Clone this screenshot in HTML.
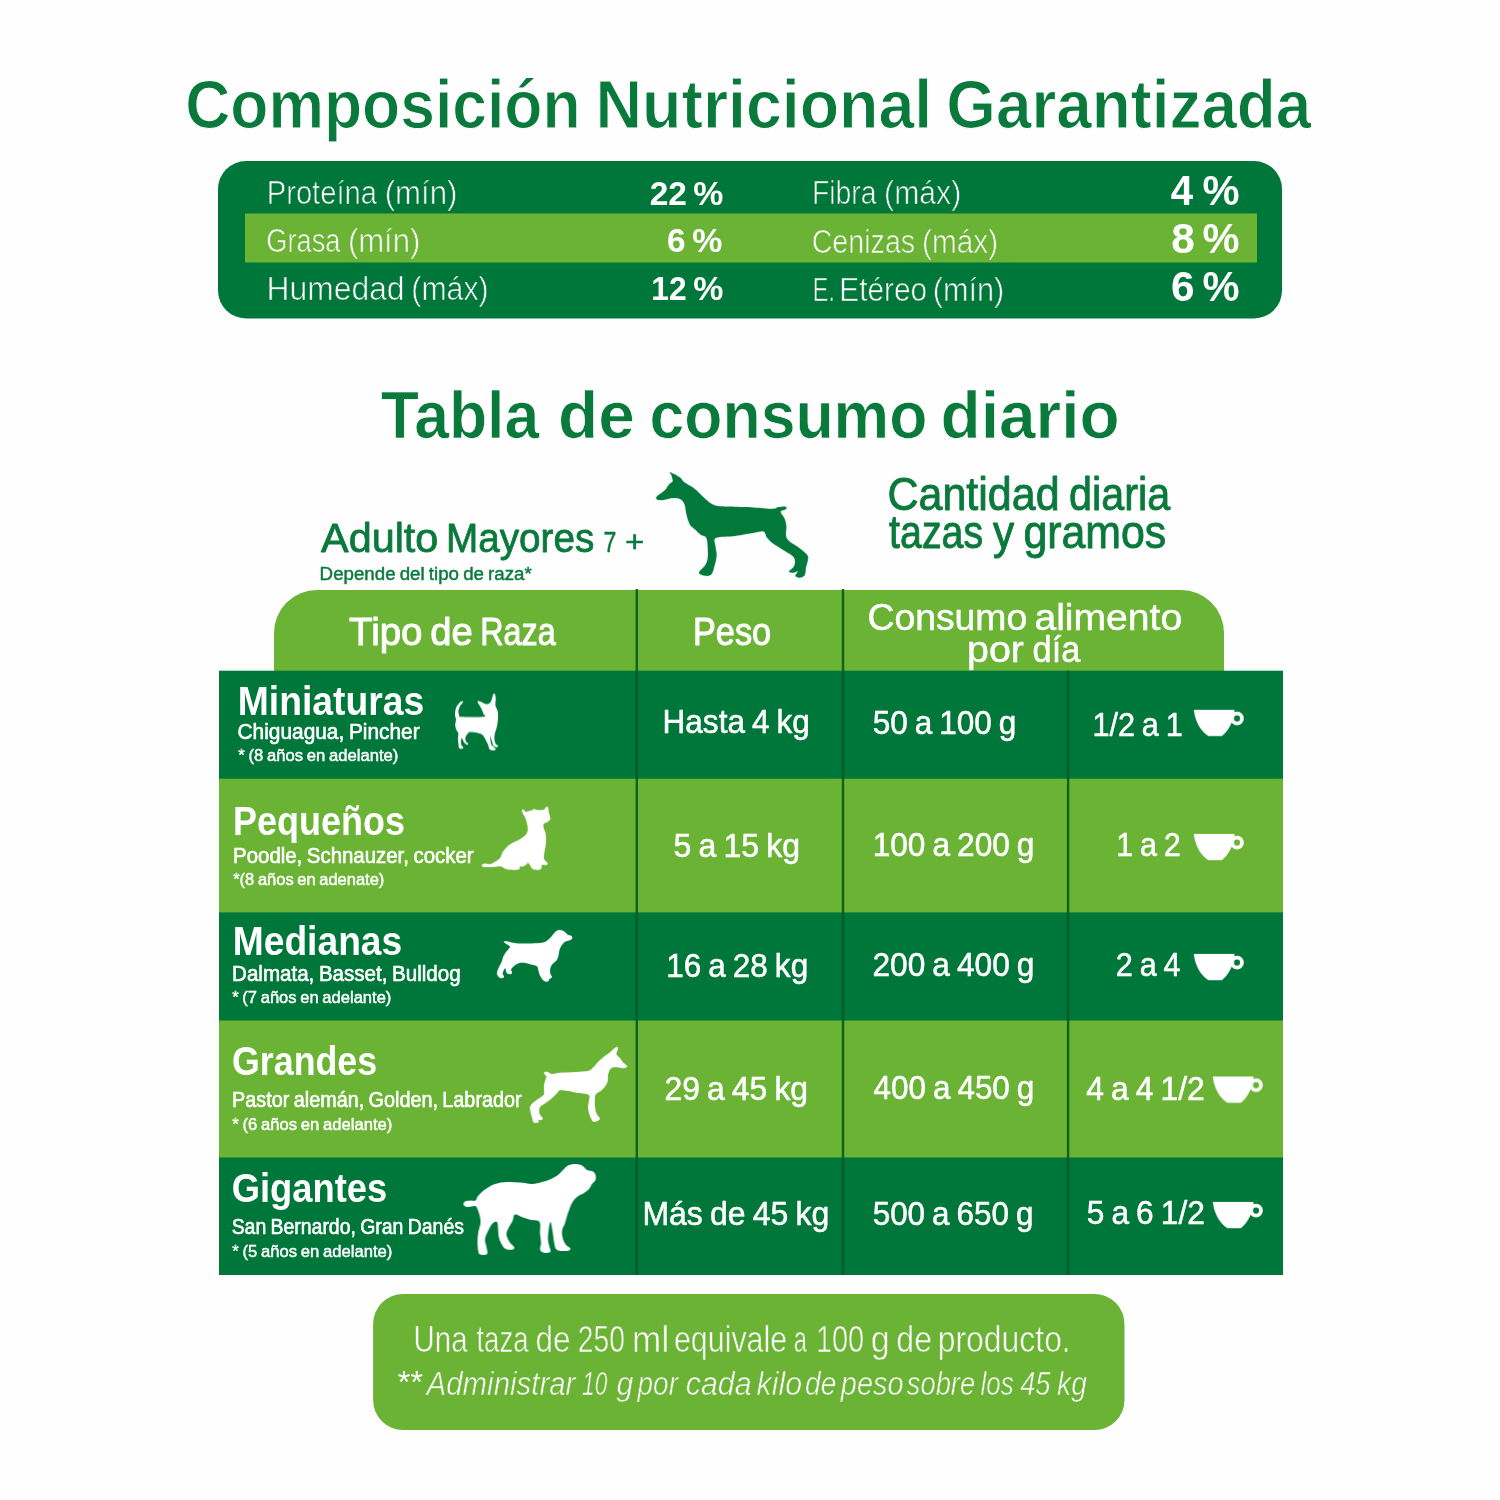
<!DOCTYPE html>
<html lang="es"><head><meta charset="utf-8"><title>Composición Nutricional Garantizada</title>
<style>
html,body{margin:0;padding:0;background:#fff;}
body{width:1500px;height:1500px;overflow:hidden;}
svg{display:block;will-change:transform;}
svg text{font-family:"Liberation Sans",sans-serif;}
</style></head><body>
<svg width="1500" height="1500" viewBox="0 0 1500 1500">
<rect width="1500" height="1500" fill="#fefefe"/>
<text x="185.29" y="127.6" font-size="68.5" fill="#0a7a3c" font-weight="bold" word-spacing="-0.055em" textLength="395.31" lengthAdjust="spacingAndGlyphs" stroke="#fefefe" stroke-width="1.0">Composición</text>
<text x="595.50" y="127.6" font-size="68.5" fill="#0a7a3c" font-weight="bold" word-spacing="-0.055em" textLength="336.70" lengthAdjust="spacingAndGlyphs" stroke="#fefefe" stroke-width="1.0">Nutricional</text>
<text x="946.35" y="127.6" font-size="68.5" fill="#0a7a3c" font-weight="bold" word-spacing="-0.055em" textLength="364.91" lengthAdjust="spacingAndGlyphs" stroke="#fefefe" stroke-width="1.0">Garantizada</text>
<rect x="218" y="161" width="1064" height="157.5" rx="28" fill="#00773a"/>
<rect x="245" y="213.5" width="1012" height="49" fill="#6ab334"/>
<text x="266.73" y="204.4" font-size="34" fill="#ffffff" word-spacing="-0.055em" textLength="110.30" lengthAdjust="spacingAndGlyphs" stroke="#00773a" stroke-width="0.7">Proteína</text>
<text x="384.73" y="204.4" font-size="34" fill="#ffffff" word-spacing="-0.055em" textLength="72.67" lengthAdjust="spacingAndGlyphs" stroke="#00773a" stroke-width="0.7">(mín)</text>
<text x="649.67" y="205" font-size="32.5" fill="#ffffff" font-weight="bold" word-spacing="-0.055em" textLength="37.24" lengthAdjust="spacingAndGlyphs">22</text>
<text x="693.26" y="205" font-size="32.5" fill="#ffffff" font-weight="bold" word-spacing="-0.055em" textLength="30.08" lengthAdjust="spacingAndGlyphs">%</text>
<text x="812.00" y="204.4" font-size="34" fill="#ffffff" word-spacing="-0.055em" textLength="64.58" lengthAdjust="spacingAndGlyphs" stroke="#00773a" stroke-width="0.7">Fibra</text>
<text x="884.09" y="204.4" font-size="34" fill="#ffffff" word-spacing="-0.055em" textLength="77.15" lengthAdjust="spacingAndGlyphs" stroke="#00773a" stroke-width="0.7">(máx)</text>
<text x="1170.85" y="204.5" font-size="42" fill="#ffffff" font-weight="bold" word-spacing="-0.055em" textLength="22.30" lengthAdjust="spacingAndGlyphs">4</text>
<text x="1202.42" y="204.5" font-size="42" fill="#ffffff" font-weight="bold" word-spacing="-0.055em" textLength="37.06" lengthAdjust="spacingAndGlyphs">%</text>
<text x="266.36" y="251.5" font-size="34" fill="#ffffff" word-spacing="-0.055em" textLength="73.99" lengthAdjust="spacingAndGlyphs" stroke="#6ab334" stroke-width="0.7">Grasa</text>
<text x="347.89" y="251.5" font-size="34" fill="#ffffff" word-spacing="-0.055em" textLength="72.49" lengthAdjust="spacingAndGlyphs" stroke="#6ab334" stroke-width="0.7">(mín)</text>
<text x="667.13" y="252.4" font-size="32.5" fill="#ffffff" font-weight="bold" word-spacing="-0.055em" textLength="18.64" lengthAdjust="spacingAndGlyphs">6</text>
<text x="692.26" y="252.4" font-size="32.5" fill="#ffffff" font-weight="bold" word-spacing="-0.055em" textLength="30.08" lengthAdjust="spacingAndGlyphs">%</text>
<text x="811.66" y="252.6" font-size="34" fill="#ffffff" word-spacing="-0.055em" textLength="103.48" lengthAdjust="spacingAndGlyphs" stroke="#6ab334" stroke-width="0.7">Cenizas</text>
<text x="921.99" y="252.6" font-size="34" fill="#ffffff" word-spacing="-0.055em" textLength="76.08" lengthAdjust="spacingAndGlyphs" stroke="#6ab334" stroke-width="0.7">(máx)</text>
<text x="1171.30" y="252.9" font-size="42" fill="#ffffff" font-weight="bold" word-spacing="-0.055em" textLength="23.57" lengthAdjust="spacingAndGlyphs">8</text>
<text x="1202.42" y="252.9" font-size="42" fill="#ffffff" font-weight="bold" word-spacing="-0.055em" textLength="37.06" lengthAdjust="spacingAndGlyphs">%</text>
<text x="266.55" y="299.8" font-size="34" fill="#ffffff" word-spacing="-0.055em" textLength="138.01" lengthAdjust="spacingAndGlyphs" stroke="#00773a" stroke-width="0.7">Humedad</text>
<text x="411.31" y="299.8" font-size="34" fill="#ffffff" word-spacing="-0.055em" textLength="77.35" lengthAdjust="spacingAndGlyphs" stroke="#00773a" stroke-width="0.7">(máx)</text>
<text x="651.34" y="300.3" font-size="32.5" fill="#ffffff" font-weight="bold" word-spacing="-0.055em" textLength="35.36" lengthAdjust="spacingAndGlyphs">12</text>
<text x="693.26" y="300.3" font-size="32.5" fill="#ffffff" font-weight="bold" word-spacing="-0.055em" textLength="30.08" lengthAdjust="spacingAndGlyphs">%</text>
<text x="812.84" y="301" font-size="34" fill="#ffffff" word-spacing="-0.055em" textLength="22.06" lengthAdjust="spacingAndGlyphs" stroke="#00773a" stroke-width="0.7">E.</text>
<text x="839.27" y="301" font-size="34" fill="#ffffff" word-spacing="-0.055em" textLength="87.85" lengthAdjust="spacingAndGlyphs" stroke="#00773a" stroke-width="0.7">Etéreo</text>
<text x="932.77" y="301" font-size="34" fill="#ffffff" word-spacing="-0.055em" textLength="71.57" lengthAdjust="spacingAndGlyphs" stroke="#00773a" stroke-width="0.7">(mín)</text>
<text x="1171.06" y="301" font-size="42" fill="#ffffff" font-weight="bold" word-spacing="-0.055em" textLength="23.55" lengthAdjust="spacingAndGlyphs">6</text>
<text x="1202.42" y="301" font-size="42" fill="#ffffff" font-weight="bold" word-spacing="-0.055em" textLength="37.06" lengthAdjust="spacingAndGlyphs">%</text>
<text x="380.71" y="438.1" font-size="66" fill="#0a7a3c" font-weight="bold" word-spacing="-0.055em" textLength="158.50" lengthAdjust="spacingAndGlyphs" stroke="#fefefe" stroke-width="0.7">Tabla</text>
<text x="558.12" y="438.1" font-size="66" fill="#0a7a3c" font-weight="bold" word-spacing="-0.055em" textLength="76.83" lengthAdjust="spacingAndGlyphs" stroke="#fefefe" stroke-width="0.7">de</text>
<text x="649.50" y="438.1" font-size="66" fill="#0a7a3c" font-weight="bold" word-spacing="-0.055em" textLength="277.89" lengthAdjust="spacingAndGlyphs" stroke="#fefefe" stroke-width="0.7">consumo</text>
<text x="940.61" y="438.1" font-size="66" fill="#0a7a3c" font-weight="bold" word-spacing="-0.055em" textLength="179.03" lengthAdjust="spacingAndGlyphs" stroke="#fefefe" stroke-width="0.7">diario</text>
<text x="321.11" y="552" font-size="41.5" fill="#0a7a3c" word-spacing="-0.055em" textLength="117.22" lengthAdjust="spacingAndGlyphs" stroke="#0a7a3c" stroke-width="0.8" stroke-linejoin="round">Adulto</text>
<text x="446.07" y="552" font-size="41.5" fill="#0a7a3c" word-spacing="-0.055em" textLength="148.24" lengthAdjust="spacingAndGlyphs" stroke="#0a7a3c" stroke-width="0.8" stroke-linejoin="round">Mayores</text>
<text x="603.56" y="552" font-size="30" fill="#0a7a3c" word-spacing="-0.055em" textLength="12.84" lengthAdjust="spacingAndGlyphs" stroke="#0a7a3c" stroke-width="0.5" stroke-linejoin="round">7</text>
<text x="625.01" y="552" font-size="30" fill="#0a7a3c" word-spacing="-0.055em" textLength="19.35" lengthAdjust="spacingAndGlyphs" stroke="#0a7a3c" stroke-width="0.5" stroke-linejoin="round">+</text>
<text x="319.64" y="580" font-size="17.5" fill="#0a7a3c" word-spacing="-0.055em" textLength="212.17" lengthAdjust="spacingAndGlyphs" stroke="#0a7a3c" stroke-width="0.45" stroke-linejoin="round">Depende del tipo de raza*</text>
<text x="887.46" y="509.5" font-size="46" fill="#0a7a3c" word-spacing="-0.055em" textLength="172.13" lengthAdjust="spacingAndGlyphs" stroke="#0a7a3c" stroke-width="0.9" stroke-linejoin="round">Cantidad</text>
<text x="1069.07" y="509.5" font-size="46" fill="#0a7a3c" word-spacing="-0.055em" textLength="101.14" lengthAdjust="spacingAndGlyphs" stroke="#0a7a3c" stroke-width="0.9" stroke-linejoin="round">diaria</text>
<text x="889.09" y="547.7" font-size="46" fill="#0a7a3c" word-spacing="-0.055em" textLength="94.10" lengthAdjust="spacingAndGlyphs" stroke="#0a7a3c" stroke-width="0.9" stroke-linejoin="round">tazas</text>
<text x="992.90" y="547.7" font-size="46" fill="#0a7a3c" word-spacing="-0.055em" textLength="21.13" lengthAdjust="spacingAndGlyphs" stroke="#0a7a3c" stroke-width="0.9" stroke-linejoin="round">y</text>
<text x="1023.40" y="547.7" font-size="46" fill="#0a7a3c" word-spacing="-0.055em" textLength="142.91" lengthAdjust="spacingAndGlyphs" stroke="#0a7a3c" stroke-width="0.9" stroke-linejoin="round">gramos</text>
<svg x="640" y="460" width="190" height="140" viewBox="0 0 1500 1105"><path d="M239,96C251,100 297,123 315,136C333,149 331,161 348,174C365,187 398,203 416,216C434,229 444,237 458,250C472,263 486,279 500,292C514,305 528,320 542,330C556,340 566,349 584,355C602,361 626,364 647,366C668,368 668,366 710,368C752,370 843,372 900,375C957,378 1018,386 1050,385C1082,384 1073,375 1090,372C1107,369 1140,365 1150,368C1160,371 1157,383 1150,390C1143,397 1112,398 1110,410C1108,422 1132,442 1140,460C1148,478 1152,493 1155,520C1158,547 1144,592 1160,620C1176,648 1223,668 1250,690C1277,712 1308,733 1320,750C1332,767 1327,773 1325,790C1323,807 1314,830 1310,850C1306,870 1308,897 1300,910C1292,923 1272,929 1260,930C1248,931 1228,923 1225,915C1222,907 1248,884 1245,880C1242,876 1222,890 1210,890C1198,890 1174,888 1175,880C1176,872 1208,858 1215,840C1222,822 1229,792 1215,770C1201,748 1158,728 1130,710C1102,692 1072,677 1050,660C1028,643 1012,626 1000,610C988,594 992,571 975,565C958,559 938,569 900,575C862,581 800,593 750,600C700,607 626,602 600,615C574,628 594,658 595,680C596,702 606,725 605,750C604,775 597,805 590,830C583,855 577,886 565,900C553,914 537,917 520,915C503,913 466,904 465,890C464,876 503,852 515,830C527,808 533,795 535,760C537,725 534,648 525,620C516,592 496,602 480,590C464,578 444,558 430,545C416,532 404,527 395,513C386,499 380,480 374,461C368,442 365,422 361,402C357,382 356,358 348,343C340,328 330,316 315,309C300,302 282,300 260,301C238,302 204,315 184,317C164,319 148,317 138,315C128,313 128,307 127,303C126,299 124,298 129,292C134,286 144,278 155,269C166,260 185,249 197,237C209,225 217,206 226,195C235,184 247,179 252,174C257,169 258,171 258,166C258,161 256,154 254,145C252,136 248,123 245,115C242,107 227,92 239,96Z" fill="#02783a"/></svg>
<path d="M274,671 V633 a43,43 0 0 1 43,-43 H1181 a43,43 0 0 1 43,43 V671 Z" fill="#6ab334"/>
<text x="349.07" y="644.8" font-size="39.5" fill="#ffffff" word-spacing="-0.055em" textLength="73.44" lengthAdjust="spacingAndGlyphs" stroke="#ffffff" stroke-width="1.0" stroke-linejoin="round">Tipo</text>
<text x="430.26" y="644.8" font-size="39.5" fill="#ffffff" word-spacing="-0.055em" textLength="42.53" lengthAdjust="spacingAndGlyphs" stroke="#ffffff" stroke-width="1.0" stroke-linejoin="round">de</text>
<text x="480.32" y="644.8" font-size="39.5" fill="#ffffff" word-spacing="-0.055em" textLength="75.36" lengthAdjust="spacingAndGlyphs" stroke="#ffffff" stroke-width="1.0" stroke-linejoin="round">Raza</text>
<text x="693.02" y="644.8" font-size="39.5" fill="#ffffff" word-spacing="-0.055em" textLength="78.06" lengthAdjust="spacingAndGlyphs" stroke="#ffffff" stroke-width="1.0" stroke-linejoin="round">Peso</text>
<text x="867.48" y="629.8" font-size="37" fill="#ffffff" word-spacing="-0.055em" textLength="159.76" lengthAdjust="spacingAndGlyphs" stroke="#ffffff" stroke-width="0.5" stroke-linejoin="round">Consumo</text>
<text x="1034.40" y="629.8" font-size="37" fill="#ffffff" word-spacing="-0.055em" textLength="147.78" lengthAdjust="spacingAndGlyphs" stroke="#ffffff" stroke-width="0.5" stroke-linejoin="round">alimento</text>
<text x="967.12" y="662.4" font-size="37" fill="#ffffff" word-spacing="-0.055em" textLength="56.75" lengthAdjust="spacingAndGlyphs" stroke="#ffffff" stroke-width="0.5" stroke-linejoin="round">por</text>
<text x="1032.62" y="662.4" font-size="37" fill="#ffffff" word-spacing="-0.055em" textLength="47.70" lengthAdjust="spacingAndGlyphs" stroke="#ffffff" stroke-width="0.5" stroke-linejoin="round">día</text>
<rect x="219" y="670.7" width="1064" height="108.5" fill="#00773a"/>
<rect x="219" y="778.7" width="1064" height="134.1" fill="#6ab334"/>
<rect x="219" y="912.3" width="1064" height="108.7" fill="#00773a"/>
<rect x="219" y="1020.5" width="1064" height="137.5" fill="#6ab334"/>
<rect x="219" y="1157.5" width="1064" height="117.5" fill="#00773a"/>
<rect x="635.6" y="589" width="2.4" height="82.0" fill="#0f631a"/>
<rect x="635.6" y="670.7" width="2.4" height="108.3" fill="#005b2a"/>
<rect x="635.6" y="778.7" width="2.4" height="133.9" fill="#0f631a"/>
<rect x="635.6" y="912.3" width="2.4" height="108.5" fill="#005b2a"/>
<rect x="635.6" y="1020.5" width="2.4" height="137.3" fill="#0f631a"/>
<rect x="635.6" y="1157.5" width="2.4" height="117.3" fill="#005b2a"/>
<rect x="841.8" y="589" width="2.4" height="82.0" fill="#0f631a"/>
<rect x="841.8" y="670.7" width="2.4" height="108.3" fill="#005b2a"/>
<rect x="841.8" y="778.7" width="2.4" height="133.9" fill="#0f631a"/>
<rect x="841.8" y="912.3" width="2.4" height="108.5" fill="#005b2a"/>
<rect x="841.8" y="1020.5" width="2.4" height="137.3" fill="#0f631a"/>
<rect x="841.8" y="1157.5" width="2.4" height="117.3" fill="#005b2a"/>
<rect x="1066.9" y="670.7" width="2.4" height="108.3" fill="#005b2a"/>
<rect x="1066.9" y="778.7" width="2.4" height="133.9" fill="#0f631a"/>
<rect x="1066.9" y="912.3" width="2.4" height="108.5" fill="#005b2a"/>
<rect x="1066.9" y="1020.5" width="2.4" height="137.3" fill="#0f631a"/>
<rect x="1066.9" y="1157.5" width="2.4" height="117.3" fill="#005b2a"/>
<text x="237.76" y="714.7" font-size="40" fill="#ffffff" font-weight="bold" word-spacing="-0.055em" textLength="186.44" lengthAdjust="spacingAndGlyphs">Miniaturas</text>
<text x="237.56" y="738.9" font-size="21.5" fill="#ffffff" word-spacing="-0.055em" textLength="182.06" lengthAdjust="spacingAndGlyphs" stroke="#ffffff" stroke-width="0.6" stroke-linejoin="round">Chiguagua, Pincher</text>
<text x="238.21" y="761" font-size="16.6" fill="#ffffff" word-spacing="-0.055em" textLength="160.17" lengthAdjust="spacingAndGlyphs" stroke="#ffffff" stroke-width="0.45" stroke-linejoin="round">* (8 años en adelante)</text>
<text x="662.53" y="733.1" font-size="33.5" fill="#ffffff" word-spacing="-0.055em" textLength="147.37" lengthAdjust="spacingAndGlyphs" stroke="#ffffff" stroke-width="0.55" stroke-linejoin="round">Hasta 4 kg</text>
<text x="872.67" y="733.6" font-size="33.5" fill="#ffffff" word-spacing="-0.055em" textLength="143.66" lengthAdjust="spacingAndGlyphs" stroke="#ffffff" stroke-width="0.55" stroke-linejoin="round">50 a 100 g</text>
<text x="1092.38" y="735.5" font-size="33.5" fill="#ffffff" word-spacing="-0.055em" textLength="90.32" lengthAdjust="spacingAndGlyphs" stroke="#ffffff" stroke-width="0.55" stroke-linejoin="round">1/2 a 1</text>
<svg x="1185.0" y="700.0" width="70" height="45" viewBox="0 0 1500 964"><path d="M190,210 H1060 C1060,400 950,650 790,770 H500 C340,680 210,450 190,210 Z" fill="#fff"/><circle cx="1115" cy="395" r="105" fill="none" stroke="#fff" stroke-width="80"/></svg>
<text x="233.04" y="834.7" font-size="40" fill="#ffffff" font-weight="bold" word-spacing="-0.055em" textLength="171.92" lengthAdjust="spacingAndGlyphs">Pequeños</text>
<text x="233.07" y="862.6" font-size="21.5" fill="#ffffff" word-spacing="-0.055em" textLength="240.56" lengthAdjust="spacingAndGlyphs" stroke="#ffffff" stroke-width="0.6" stroke-linejoin="round">Poodle, Schnauzer, cocker</text>
<text x="233.16" y="885" font-size="16.6" fill="#ffffff" word-spacing="-0.055em" textLength="151.19" lengthAdjust="spacingAndGlyphs" stroke="#ffffff" stroke-width="0.45" stroke-linejoin="round">*(8 años en adenate)</text>
<text x="673.57" y="856.7" font-size="33.5" fill="#ffffff" word-spacing="-0.055em" textLength="126.51" lengthAdjust="spacingAndGlyphs" stroke="#ffffff" stroke-width="0.55" stroke-linejoin="round">5 a 15 kg</text>
<text x="872.73" y="856.2" font-size="33.5" fill="#ffffff" word-spacing="-0.055em" textLength="161.72" lengthAdjust="spacingAndGlyphs" stroke="#ffffff" stroke-width="0.55" stroke-linejoin="round">100 a 200 g</text>
<text x="1116.26" y="856.4" font-size="33.5" fill="#ffffff" word-spacing="-0.055em" textLength="64.58" lengthAdjust="spacingAndGlyphs" stroke="#ffffff" stroke-width="0.55" stroke-linejoin="round">1 a 2</text>
<svg x="1185.0" y="824.1" width="70" height="45" viewBox="0 0 1500 964"><path d="M190,210 H1060 C1060,400 950,650 790,770 H500 C340,680 210,450 190,210 Z" fill="#fff"/><circle cx="1115" cy="395" r="105" fill="none" stroke="#fff" stroke-width="80"/></svg>
<text x="232.76" y="955.0" font-size="40" fill="#ffffff" font-weight="bold" word-spacing="-0.055em" textLength="169.47" lengthAdjust="spacingAndGlyphs">Medianas</text>
<text x="232.06" y="980.6" font-size="21.5" fill="#ffffff" word-spacing="-0.055em" textLength="228.58" lengthAdjust="spacingAndGlyphs" stroke="#ffffff" stroke-width="0.6" stroke-linejoin="round">Dalmata, Basset, Bulldog</text>
<text x="232.16" y="1003" font-size="16.6" fill="#ffffff" word-spacing="-0.055em" textLength="159.19" lengthAdjust="spacingAndGlyphs" stroke="#ffffff" stroke-width="0.45" stroke-linejoin="round">* (7 años en adelante)</text>
<text x="666.20" y="976.7" font-size="33.5" fill="#ffffff" word-spacing="-0.055em" textLength="141.97" lengthAdjust="spacingAndGlyphs" stroke="#ffffff" stroke-width="0.55" stroke-linejoin="round">16 a 28 kg</text>
<text x="872.53" y="976.2" font-size="33.5" fill="#ffffff" word-spacing="-0.055em" textLength="161.84" lengthAdjust="spacingAndGlyphs" stroke="#ffffff" stroke-width="0.55" stroke-linejoin="round">200 a 400 g</text>
<text x="1115.87" y="976.4" font-size="33.5" fill="#ffffff" word-spacing="-0.055em" textLength="64.66" lengthAdjust="spacingAndGlyphs" stroke="#ffffff" stroke-width="0.55" stroke-linejoin="round">2 a 4</text>
<svg x="1185.0" y="944.1" width="70" height="45" viewBox="0 0 1500 964"><path d="M190,210 H1060 C1060,400 950,650 790,770 H500 C340,680 210,450 190,210 Z" fill="#fff"/><circle cx="1115" cy="395" r="105" fill="none" stroke="#fff" stroke-width="80"/></svg>
<text x="231.97" y="1075.3" font-size="40" fill="#ffffff" font-weight="bold" word-spacing="-0.055em" textLength="145.23" lengthAdjust="spacingAndGlyphs">Grandes</text>
<text x="232.09" y="1107.1" font-size="21.5" fill="#ffffff" word-spacing="-0.055em" textLength="289.54" lengthAdjust="spacingAndGlyphs" stroke="#ffffff" stroke-width="0.6" stroke-linejoin="round">Pastor alemán, Golden, Labrador</text>
<text x="232.21" y="1130" font-size="16.6" fill="#ffffff" word-spacing="-0.055em" textLength="160.17" lengthAdjust="spacingAndGlyphs" stroke="#ffffff" stroke-width="0.45" stroke-linejoin="round">* (6 años en adelante)</text>
<text x="664.47" y="1099.7" font-size="33.5" fill="#ffffff" word-spacing="-0.055em" textLength="143.64" lengthAdjust="spacingAndGlyphs" stroke="#ffffff" stroke-width="0.55" stroke-linejoin="round">29 a 45 kg</text>
<text x="873.44" y="1099.4" font-size="33.5" fill="#ffffff" word-spacing="-0.055em" textLength="160.91" lengthAdjust="spacingAndGlyphs" stroke="#ffffff" stroke-width="0.55" stroke-linejoin="round">400 a 450 g</text>
<text x="1086.17" y="1099.6" font-size="33.5" fill="#ffffff" word-spacing="-0.055em" textLength="118.65" lengthAdjust="spacingAndGlyphs" stroke="#ffffff" stroke-width="0.55" stroke-linejoin="round">4 a 4 1/2</text>
<svg x="1204.0" y="1066.7" width="70" height="45" viewBox="0 0 1500 964"><path d="M190,210 H1060 C1060,400 950,650 790,770 H500 C340,680 210,450 190,210 Z" fill="#fff"/><circle cx="1115" cy="395" r="105" fill="none" stroke="#fff" stroke-width="80"/></svg>
<text x="231.74" y="1201.7" font-size="40" fill="#ffffff" font-weight="bold" word-spacing="-0.055em" textLength="155.39" lengthAdjust="spacingAndGlyphs">Gigantes</text>
<text x="231.63" y="1233.6" font-size="21.5" fill="#ffffff" word-spacing="-0.055em" textLength="232.31" lengthAdjust="spacingAndGlyphs" stroke="#ffffff" stroke-width="0.6" stroke-linejoin="round">San Bernardo, Gran Danés</text>
<text x="232.21" y="1256.7" font-size="16.6" fill="#ffffff" word-spacing="-0.055em" textLength="160.17" lengthAdjust="spacingAndGlyphs" stroke="#ffffff" stroke-width="0.45" stroke-linejoin="round">* (5 años en adelante)</text>
<text x="642.40" y="1224.7" font-size="33.5" fill="#ffffff" word-spacing="-0.055em" textLength="186.80" lengthAdjust="spacingAndGlyphs" stroke="#ffffff" stroke-width="0.55" stroke-linejoin="round">Más de 45 kg</text>
<text x="872.69" y="1224.7" font-size="33.5" fill="#ffffff" word-spacing="-0.055em" textLength="160.68" lengthAdjust="spacingAndGlyphs" stroke="#ffffff" stroke-width="0.55" stroke-linejoin="round">500 a 650 g</text>
<text x="1086.74" y="1224.3" font-size="33.5" fill="#ffffff" word-spacing="-0.055em" textLength="118.09" lengthAdjust="spacingAndGlyphs" stroke="#ffffff" stroke-width="0.55" stroke-linejoin="round">5 a 6 1/2</text>
<svg x="1204.0" y="1192.1000000000001" width="70" height="45" viewBox="0 0 1500 964"><path d="M190,210 H1060 C1060,400 950,650 790,770 H500 C340,680 210,450 190,210 Z" fill="#fff"/><circle cx="1115" cy="395" r="105" fill="none" stroke="#fff" stroke-width="80"/></svg>
<svg x="440" y="680" width="80" height="80" viewBox="0 0 1500 1500"><path d="M420,395C408,397 378,412 360,430C342,448 322,473 310,500C298,527 289,560 285,590C281,620 282,655 285,680C288,705 300,712 300,740C300,768 283,817 285,850C287,883 300,913 310,940C320,967 341,983 345,1010C349,1037 335,1068 335,1100C335,1132 341,1170 345,1200C349,1230 348,1266 360,1280C372,1294 408,1288 420,1285C432,1282 438,1271 435,1260C432,1249 407,1238 400,1220C393,1202 393,1172 395,1150C397,1128 401,1087 410,1090C419,1093 435,1149 450,1170C465,1191 487,1211 500,1215C513,1219 532,1204 530,1195C528,1186 499,1178 490,1160C481,1142 472,1113 475,1090C478,1067 496,1039 510,1020C524,1001 528,980 560,975C592,970 660,981 700,990C740,999 775,1010 800,1030C825,1050 833,1080 850,1110C867,1140 887,1178 900,1210C913,1242 913,1282 930,1300C947,1318 981,1320 1000,1320C1019,1320 1045,1312 1045,1300C1045,1288 1014,1267 1000,1250C986,1233 970,1233 960,1200C950,1167 938,1058 940,1050C942,1042 965,1120 975,1150C985,1180 986,1212 1000,1230C1014,1248 1045,1259 1060,1260C1075,1261 1093,1247 1090,1235C1087,1223 1052,1212 1040,1190C1028,1168 1022,1132 1020,1100C1018,1068 1023,1033 1030,1000C1037,967 1051,940 1060,900C1069,860 1081,810 1085,760C1089,710 1092,647 1085,600C1078,553 1047,522 1040,480C1033,438 1047,386 1045,350C1043,314 1038,279 1030,265C1022,251 1009,251 1000,265C991,279 984,324 975,350C966,376 958,403 945,420C932,437 918,446 900,450C882,454 862,452 840,445C818,438 791,418 770,410C749,402 726,393 715,395C704,397 699,404 705,420C711,436 736,465 750,490C764,515 779,545 790,570C801,595 810,620 815,640C820,660 889,682 820,690C751,698 477,695 400,690C323,685 369,677 360,660C351,643 343,617 345,590C347,563 356,528 370,500C384,472 422,438 430,420C438,402 432,393 420,395Z" fill="#ffffff"/></svg>
<svg x="470" y="795" width="90" height="90" viewBox="0 0 1500 1500"><path d="M200,1160C205,1151 217,1142 240,1140C263,1138 310,1155 340,1150C370,1145 393,1127 420,1110C447,1093 480,1075 500,1050C520,1025 523,988 540,960C557,932 573,907 600,880C627,853 663,823 700,800C737,777 783,762 820,740C857,718 897,695 920,670C943,645 955,622 960,590C965,558 957,515 950,480C943,445 932,408 920,380C908,352 889,330 880,310C871,290 863,272 865,260C867,248 879,237 890,240C901,243 918,275 930,280C942,285 942,275 960,270C978,265 1022,257 1040,250C1058,243 1060,231 1070,230C1080,229 1078,242 1100,245C1122,248 1175,252 1200,250C1225,248 1239,238 1250,230C1261,222 1257,204 1265,200C1273,196 1292,192 1300,205C1308,218 1305,256 1310,280C1315,304 1326,328 1330,350C1334,372 1342,393 1335,410C1328,427 1308,438 1290,450C1272,462 1241,465 1230,480C1219,495 1220,513 1225,540C1230,567 1253,597 1260,640C1267,683 1268,748 1265,800C1262,852 1246,908 1240,950C1234,992 1227,1025 1230,1050C1233,1075 1250,1087 1260,1100C1270,1113 1287,1119 1290,1130C1293,1141 1295,1159 1280,1165C1265,1171 1216,1154 1200,1165C1184,1176 1198,1216 1185,1230C1172,1244 1144,1250 1120,1250C1096,1250 1060,1243 1040,1230C1020,1217 1013,1188 1000,1170C987,1152 968,1123 960,1120C952,1117 963,1138 950,1150C937,1162 900,1183 880,1190C860,1197 840,1182 830,1190C820,1198 835,1225 820,1235C805,1245 777,1250 740,1250C703,1250 637,1245 600,1235C563,1225 553,1196 520,1190C487,1184 440,1198 400,1200C360,1202 312,1201 280,1200C248,1199 223,1202 210,1195C197,1188 195,1169 200,1160Z" fill="#ffffff"/></svg>
<svg x="485" y="915" width="100" height="80" viewBox="0 0 1500 1200"><path d="M285,395C293,392 318,392 340,395C362,398 393,410 420,415C447,420 453,423 500,425C547,427 640,427 700,425C760,423 822,422 860,415C898,408 910,398 930,385C950,372 965,356 980,340C995,324 1007,306 1020,290C1033,274 1045,256 1060,245C1075,234 1092,227 1110,225C1128,223 1153,228 1170,235C1187,242 1198,255 1210,265C1222,275 1227,288 1240,295C1253,302 1278,303 1290,310C1302,317 1309,326 1310,335C1311,344 1305,357 1295,365C1285,373 1266,379 1250,385C1234,391 1213,392 1200,400C1187,408 1180,418 1170,430C1160,442 1149,453 1140,470C1131,487 1121,508 1115,530C1109,552 1111,577 1105,600C1099,623 1092,650 1080,670C1068,690 1045,703 1030,720C1015,737 999,750 990,770C981,790 976,820 975,840C974,860 980,876 985,890C990,904 1005,915 1005,925C1005,935 992,944 985,950C978,956 970,953 965,960C960,967 962,983 955,990C948,997 932,1001 920,1000C908,999 892,993 880,985C868,977 860,964 850,950C840,936 828,920 820,900C812,880 807,852 800,830C793,808 797,784 780,770C763,756 730,753 700,745C670,737 630,724 600,720C570,716 543,716 520,720C497,724 478,733 460,745C442,757 422,778 410,790C398,802 391,808 390,820C389,832 405,849 405,860C405,871 399,881 390,885C381,889 362,889 350,885C338,881 328,874 320,860C312,846 312,805 305,800C298,795 287,817 280,830C273,843 264,865 265,880C266,895 284,909 285,920C286,931 280,941 270,945C260,949 238,951 225,945C212,939 198,924 190,910C182,896 177,882 180,860C183,838 198,807 210,780C222,753 239,727 250,700C261,673 265,643 275,620C285,597 296,580 310,560C324,540 349,515 360,500C371,485 380,480 375,470C370,460 344,450 330,440C316,430 298,418 290,410C282,402 277,398 285,395Z" fill="#ffffff"/></svg>
<svg x="520" y="1035" width="120" height="100" viewBox="0 0 1500 1250"><path d="M1215,150C1222,152 1227,160 1225,175C1223,190 1201,221 1205,240C1209,259 1236,272 1250,290C1264,308 1276,330 1290,345C1304,360 1328,370 1335,380C1342,390 1338,399 1330,405C1322,411 1307,415 1290,415C1273,415 1252,407 1230,405C1208,403 1178,399 1160,405C1142,411 1130,424 1120,440C1110,456 1104,477 1100,500C1096,523 1102,555 1095,580C1088,605 1074,630 1060,650C1046,670 1029,684 1010,700C991,716 958,723 945,745C932,767 936,801 935,830C934,859 936,893 940,920C944,947 950,969 960,990C970,1011 998,1032 1000,1045C1002,1058 988,1063 975,1070C962,1077 934,1088 920,1085C906,1082 900,1069 890,1050C880,1031 867,995 860,970C853,945 850,925 850,900C850,875 859,846 860,820C861,794 882,762 855,745C828,728 742,728 700,720C658,712 633,705 600,700C567,695 523,685 500,690C477,695 477,713 460,730C443,747 423,770 400,790C377,810 343,833 320,850C297,867 273,877 260,890C247,903 242,913 240,930C238,947 238,972 245,990C252,1008 282,1028 285,1040C288,1052 270,1062 260,1065C250,1068 229,1057 225,1060C221,1063 239,1078 235,1085C231,1092 212,1100 200,1100C188,1100 173,1097 165,1085C157,1073 156,1051 150,1030C144,1009 134,982 130,960C126,938 120,918 125,900C130,882 141,868 160,850C179,832 218,807 240,790C262,773 285,765 295,750C305,735 299,722 300,700C301,678 297,645 300,620C303,595 315,567 320,550C325,533 333,532 330,520C327,508 303,490 300,480C297,470 302,463 310,460C318,457 330,456 345,460C360,464 374,483 400,485C426,487 450,474 500,470C550,466 640,464 700,460C760,456 823,455 860,445C897,435 900,419 920,400C940,381 957,353 980,330C1003,307 1035,280 1060,260C1085,240 1110,226 1130,210C1150,194 1166,175 1180,165C1194,155 1208,148 1215,150Z" fill="#ffffff"/></svg>
<svg x="455" y="1155" width="150" height="110" viewBox="0 0 1500 1100"><path d="M85,490C86,482 89,471 100,465C111,459 132,457 150,455C168,453 192,462 205,455C218,448 214,428 230,410C246,392 272,365 300,345C328,325 363,302 400,290C437,278 478,272 520,270C562,268 608,272 650,275C692,278 733,291 770,290C807,289 838,278 870,270C902,262 933,252 960,240C987,228 1010,215 1030,200C1050,185 1063,166 1080,150C1097,134 1110,115 1130,105C1150,95 1177,90 1200,90C1223,90 1250,95 1270,105C1290,115 1302,140 1320,150C1338,160 1366,157 1380,165C1394,173 1401,186 1405,200C1409,214 1411,235 1405,250C1399,265 1381,275 1370,290C1359,305 1353,325 1340,340C1327,355 1310,367 1290,380C1270,393 1240,403 1220,420C1200,437 1185,453 1170,480C1155,507 1142,547 1130,580C1118,613 1110,650 1100,680C1090,710 1073,733 1070,760C1067,787 1073,817 1080,840C1087,863 1098,885 1110,900C1122,915 1145,921 1150,930C1155,939 1155,950 1140,955C1125,960 1082,962 1060,960C1038,958 1022,955 1010,940C998,925 996,900 990,870C984,840 981,793 975,760C969,727 962,670 955,670C948,670 939,730 935,760C931,790 928,823 930,850C932,877 941,901 945,920C949,939 959,955 955,965C951,975 934,979 920,980C906,981 882,977 870,970C858,963 852,955 850,940C848,925 860,907 860,880C860,853 852,815 850,780C848,745 860,692 845,670C830,648 788,658 760,650C732,642 707,634 680,625C653,616 618,589 600,595C582,601 587,636 575,660C563,684 540,717 530,740C520,763 512,778 515,800C518,822 532,850 545,870C558,890 584,908 590,920C596,932 592,941 580,945C568,949 537,950 520,945C503,940 493,934 480,915C467,896 448,861 440,830C432,799 433,757 430,730C427,703 428,678 420,670C412,662 393,668 380,680C367,692 353,713 340,740C327,767 304,810 300,840C296,870 312,895 315,920C318,945 331,978 320,990C309,1002 265,1002 250,995C235,988 234,974 230,950C226,926 224,882 225,850C226,818 230,788 235,760C240,732 253,707 255,680C257,653 251,625 245,600C239,575 228,545 220,530C212,515 215,512 200,510C185,508 148,520 130,520C112,520 102,515 95,510C88,505 84,498 85,490Z" fill="#ffffff"/></svg>
<rect x="373.1" y="1294" width="751.4" height="136" rx="30" fill="#6ab334"/>
<text x="413.48" y="1351.8" font-size="36" fill="#ffffff" word-spacing="-0.055em" textLength="54.08" lengthAdjust="spacingAndGlyphs" stroke="#6ab334" stroke-width="0.6">Una</text>
<text x="476.46" y="1351.8" font-size="36" fill="#ffffff" word-spacing="-0.055em" textLength="52.08" lengthAdjust="spacingAndGlyphs" stroke="#6ab334" stroke-width="0.6">taza</text>
<text x="535.48" y="1351.8" font-size="36" fill="#ffffff" word-spacing="-0.055em" textLength="35.00" lengthAdjust="spacingAndGlyphs" stroke="#6ab334" stroke-width="0.6">de</text>
<text x="577.82" y="1351.8" font-size="36" fill="#ffffff" word-spacing="-0.055em" textLength="47.10" lengthAdjust="spacingAndGlyphs" stroke="#6ab334" stroke-width="0.6">250</text>
<text x="632.12" y="1351.8" font-size="36" fill="#ffffff" word-spacing="-0.055em" textLength="37.12" lengthAdjust="spacingAndGlyphs" stroke="#6ab334" stroke-width="0.6">ml</text>
<text x="673.93" y="1351.8" font-size="36" fill="#ffffff" word-spacing="-0.055em" textLength="113.24" lengthAdjust="spacingAndGlyphs" stroke="#6ab334" stroke-width="0.6">equivale</text>
<text x="793.84" y="1351.8" font-size="36" fill="#ffffff" word-spacing="-0.055em" textLength="13.15" lengthAdjust="spacingAndGlyphs" stroke="#6ab334" stroke-width="0.6">a</text>
<text x="815.93" y="1351.8" font-size="36" fill="#ffffff" word-spacing="-0.055em" textLength="48.30" lengthAdjust="spacingAndGlyphs" stroke="#6ab334" stroke-width="0.6">100</text>
<text x="870.65" y="1351.8" font-size="36" fill="#ffffff" word-spacing="-0.055em" textLength="18.87" lengthAdjust="spacingAndGlyphs" stroke="#6ab334" stroke-width="0.6">g</text>
<text x="896.32" y="1351.8" font-size="36" fill="#ffffff" word-spacing="-0.055em" textLength="35.69" lengthAdjust="spacingAndGlyphs" stroke="#6ab334" stroke-width="0.6">de</text>
<text x="937.77" y="1351.8" font-size="36" fill="#ffffff" word-spacing="-0.055em" textLength="132.97" lengthAdjust="spacingAndGlyphs" stroke="#6ab334" stroke-width="0.6">producto.</text>
<text x="396.26" y="1392.7" font-size="32" fill="#ffffff" font-style="italic" word-spacing="-0.055em" textLength="25.32" lengthAdjust="spacingAndGlyphs">**</text>
<text x="426.58" y="1395" font-size="33.5" fill="#ffffff" font-style="italic" word-spacing="-0.055em" textLength="148.85" lengthAdjust="spacingAndGlyphs" stroke="#6ab334" stroke-width="0.6">Administrar</text>
<text x="582.12" y="1395" font-size="33.5" fill="#ffffff" font-style="italic" word-spacing="-0.055em" textLength="25.25" lengthAdjust="spacingAndGlyphs" stroke="#6ab334" stroke-width="0.6">10</text>
<text x="616.40" y="1395" font-size="33.5" fill="#ffffff" font-style="italic" word-spacing="-0.055em" textLength="16.90" lengthAdjust="spacingAndGlyphs" stroke="#6ab334" stroke-width="0.6">g</text>
<text x="637.59" y="1395" font-size="33.5" fill="#ffffff" font-style="italic" word-spacing="-0.055em" textLength="40.39" lengthAdjust="spacingAndGlyphs" stroke="#6ab334" stroke-width="0.6">por</text>
<text x="685.73" y="1395" font-size="33.5" fill="#ffffff" font-style="italic" word-spacing="-0.055em" textLength="65.94" lengthAdjust="spacingAndGlyphs" stroke="#6ab334" stroke-width="0.6">cada</text>
<text x="756.57" y="1395" font-size="33.5" fill="#ffffff" font-style="italic" word-spacing="-0.055em" textLength="45.49" lengthAdjust="spacingAndGlyphs" stroke="#6ab334" stroke-width="0.6">kilo</text>
<text x="805.10" y="1395" font-size="33.5" fill="#ffffff" font-style="italic" word-spacing="-0.055em" textLength="31.21" lengthAdjust="spacingAndGlyphs" stroke="#6ab334" stroke-width="0.6">de</text>
<text x="840.80" y="1395" font-size="33.5" fill="#ffffff" font-style="italic" word-spacing="-0.055em" textLength="62.80" lengthAdjust="spacingAndGlyphs" stroke="#6ab334" stroke-width="0.6">peso</text>
<text x="906.86" y="1395" font-size="33.5" fill="#ffffff" font-style="italic" word-spacing="-0.055em" textLength="68.29" lengthAdjust="spacingAndGlyphs" stroke="#6ab334" stroke-width="0.6">sobre</text>
<text x="980.56" y="1395" font-size="33.5" fill="#ffffff" font-style="italic" word-spacing="-0.055em" textLength="33.19" lengthAdjust="spacingAndGlyphs" stroke="#6ab334" stroke-width="0.6">los</text>
<text x="1020.13" y="1395" font-size="33.5" fill="#ffffff" font-style="italic" word-spacing="-0.055em" textLength="30.30" lengthAdjust="spacingAndGlyphs" stroke="#6ab334" stroke-width="0.6">45</text>
<text x="1057.05" y="1395" font-size="33.5" fill="#ffffff" font-style="italic" word-spacing="-0.055em" textLength="29.77" lengthAdjust="spacingAndGlyphs" stroke="#6ab334" stroke-width="0.6">kg</text>
</svg>
</body></html>
